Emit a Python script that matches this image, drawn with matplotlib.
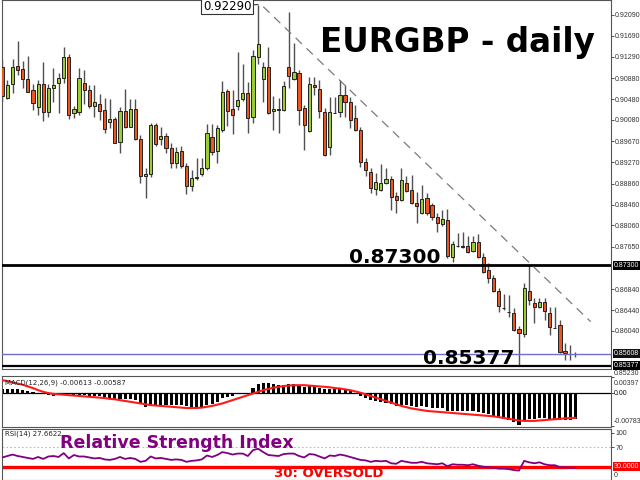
import matplotlib
matplotlib.use('Agg')
import matplotlib.pyplot as plt
from matplotlib.transforms import blended_transform_factory as btf

# ---------------- data ----------------
opens = [0.91100, 0.90495, 0.90763, 0.91113, 0.91050, 0.90859, 0.90654, 0.90334, 0.90763, 0.90238,
         0.90686, 0.90782, 0.90878, 0.91280, 0.90208, 0.90238, 0.90782, 0.90654, 0.90348, 0.90386,
         0.90271, 0.90047, 0.90093, 0.89664, 0.90258, 0.89951, 0.90284, 0.89710, 0.89013, 0.89046,
         0.89984, 0.89710, 0.89773, 0.89538, 0.89251, 0.89492, 0.89199, 0.88822, 0.88963, 0.89046,
         0.89155, 0.89760, 0.89492, 0.89888, 0.90641, 0.90284, 0.90348, 0.90482, 0.90591, 0.90143,
         0.91280, 0.90865, 0.91100, 0.90252, 0.90280, 0.90271, 0.91100, 0.90865, 0.90974, 0.90304,
         0.89869, 0.90750, 0.90673, 0.90238, 0.89568, 0.90219, 0.90227, 0.90558, 0.90430, 0.90112,
         0.89888, 0.89281, 0.89090, 0.88758, 0.88739, 0.88868, 0.88944, 0.88624, 0.88548, 0.88868,
         0.88739, 0.88485, 0.88305, 0.88580, 0.88452, 0.88217, 0.88088, 0.88165, 0.87462, 0.87673,
         0.87673, 0.87673, 0.87571, 0.87749, 0.87451, 0.87208, 0.87049, 0.86811, 0.86486, 0.86409,
         0.86390, 0.86072, 0.85982, 0.86811, 0.86582, 0.86493, 0.86595, 0.86390, 0.86103, 0.86155,
         0.85657, 0.85594, 0.85594]
highs = [0.91228, 0.90845, 0.91242, 0.91592, 0.91209, 0.91305, 0.90769, 0.90845, 0.91196, 0.90769,
         0.91075, 0.90974, 0.91471, 0.91337, 0.90348, 0.91069, 0.91037, 0.90750, 0.90750, 0.90572,
         0.90495, 0.90482, 0.90143, 0.90323, 0.90667, 0.90476, 0.90476, 0.89792, 0.89155, 0.90028,
         0.90028, 0.89940, 0.89836, 0.89633, 0.89568, 0.89582, 0.89251, 0.89122, 0.89346, 0.89346,
         0.90003, 0.90003, 0.89984, 0.90832, 0.90667, 0.90654, 0.91387, 0.91152, 0.90813, 0.91420,
         0.92290, 0.91196, 0.91483, 0.90539, 0.90501, 0.90826, 0.92153, 0.91548, 0.91037, 0.90367,
         0.90909, 0.90909, 0.90845, 0.90304, 0.90526, 0.90526, 0.90845, 0.90750, 0.90526, 0.90367,
         0.89951, 0.89346, 0.89155, 0.89071, 0.89237, 0.89155, 0.89007, 0.88707, 0.89155, 0.89007,
         0.89026, 0.88707, 0.88835, 0.88682, 0.88490, 0.88293, 0.88356, 0.88370, 0.87763, 0.87922,
         0.87941, 0.87859, 0.87859, 0.87897, 0.87527, 0.87336, 0.87112, 0.86857, 0.86748, 0.86729,
         0.86480, 0.86135, 0.86953, 0.87300, 0.86666, 0.86672, 0.86672, 0.86499, 0.86499, 0.86250,
         0.85804, 0.85772, 0.85643]
lows = [0.90430, 0.90480, 0.90591, 0.90941, 0.90686, 0.90616, 0.90271, 0.90175, 0.90060, 0.90143,
        0.90430, 0.90208, 0.90782, 0.90093, 0.90118, 0.90175, 0.90386, 0.90315, 0.90131, 0.90080,
        0.89825, 0.89921, 0.89639, 0.89442, 0.89921, 0.89946, 0.89697, 0.88879, 0.88580, 0.88994,
        0.89582, 0.89601, 0.89453, 0.89155, 0.89155, 0.89161, 0.88657, 0.88726, 0.88931, 0.89007,
        0.89122, 0.89409, 0.89262, 0.89856, 0.89965, 0.89811, 0.90271, 0.90443, 0.89825, 0.90028,
        0.91152, 0.90430, 0.90194, 0.89888, 0.89831, 0.90252, 0.90686, 0.90845, 0.89984, 0.89505,
        0.89850, 0.90558, 0.90112, 0.89390, 0.89409, 0.90204, 0.90143, 0.90143, 0.89926, 0.89869,
        0.89185, 0.89007, 0.88676, 0.88644, 0.88720, 0.88854, 0.88356, 0.88293, 0.88529, 0.88701,
        0.88471, 0.88102, 0.88280, 0.88261, 0.88165, 0.87941, 0.88050, 0.87437, 0.87367, 0.87648,
        0.87623, 0.87533, 0.87552, 0.87432, 0.87144, 0.86953, 0.86786, 0.86409, 0.86442, 0.86314,
        0.86040, 0.85377, 0.85931, 0.86538, 0.86187, 0.86480, 0.86250, 0.85963, 0.86088, 0.85619,
        0.85484, 0.85484, 0.85548]
closes = [0.90539, 0.90750, 0.91100, 0.91037, 0.90859, 0.90621, 0.90399, 0.90763, 0.90238, 0.90686,
          0.90750, 0.90878, 0.91280, 0.90175, 0.90284, 0.90889, 0.90654, 0.90348, 0.90418, 0.90258,
          0.89901, 0.90099, 0.89645, 0.90258, 0.89940, 0.90284, 0.89710, 0.89007, 0.89046, 0.89984,
          0.89620, 0.89773, 0.89538, 0.89262, 0.89473, 0.89199, 0.88822, 0.88963, 0.88982, 0.89166,
          0.89825, 0.89473, 0.89921, 0.90621, 0.90258, 0.90175, 0.90462, 0.90591, 0.90112, 0.91305,
          0.91535, 0.91100, 0.90208, 0.90284, 0.90277, 0.90730, 0.90922, 0.91004, 0.90271, 0.89984,
          0.90769, 0.90706, 0.90252, 0.89409, 0.90227, 0.90216, 0.90558, 0.90418, 0.90080, 0.89888,
          0.89281, 0.89122, 0.88772, 0.88887, 0.88868, 0.88944, 0.88611, 0.88548, 0.88931, 0.88726,
          0.88496, 0.88433, 0.88561, 0.88293, 0.88217, 0.88102, 0.88178, 0.87476, 0.87700, 0.87667,
          0.87654, 0.87558, 0.87738, 0.87451, 0.87175, 0.87049, 0.86811, 0.86518, 0.86480, 0.86403,
          0.86059, 0.86007, 0.86869, 0.86633, 0.86493, 0.86595, 0.86428, 0.86111, 0.86099, 0.85643,
          0.85624, 0.85599, 0.85608]

macd_main = [0.0012, 0.0012, 0.0011, 0.0011, 0.0009, 0.0006, 0.0004, 0.0002, -0.0002, -0.0004,
             -0.0005, -0.0004, -0.0001, -0.0002, -0.0003, -0.0003, -0.0004, -0.0005, -0.0006, -0.0007,
             -0.0009, -0.0010, -0.0013, -0.0014, -0.0014, -0.0013, -0.0016, -0.0025, -0.0033, -0.0030,
             -0.0028, -0.0027, -0.0027, -0.0028, -0.0027, -0.0027, -0.0031, -0.0033, -0.0034, -0.0033,
             -0.0028, -0.0025, -0.0020, -0.0012, -0.0008, -0.0005, -0.0002, 0.0001, 0.0002, 0.0013,
             0.0024, 0.0026, 0.0025, 0.0022, 0.0020, 0.0021, 0.0023, 0.0022, 0.0019, 0.0016,
             0.0018, 0.0017, 0.0014, 0.0010, 0.0011, 0.0010, 0.0010, 0.0008, 0.0005, 0.0002,
             -0.0005, -0.0010, -0.0016, -0.0019, -0.0021, -0.0022, -0.0026, -0.0029, -0.0027, -0.0028,
             -0.0030, -0.0032, -0.0031, -0.0033, -0.0035, -0.0036, -0.0036, -0.0043, -0.0043, -0.0043,
             -0.0043, -0.0043, -0.0042, -0.0044, -0.0047, -0.0050, -0.0054, -0.0059, -0.0062, -0.0065,
             -0.0069, -0.0075, -0.0063, -0.0061, -0.0061, -0.0060, -0.0060, -0.0061, -0.0061, -0.0064,
             -0.0065, -0.0063, -0.00613]
macd_signal = [0.0032, 0.0030, 0.0027, 0.0024, 0.0021, 0.0017, 0.0013, 0.0008, 0.0004, 0.0001,
               -0.0001, -0.0002, -0.0003, -0.0004, -0.0005, -0.0006, -0.0007, -0.0008, -0.0009, -0.0010,
               -0.0011, -0.0013, -0.0014, -0.0016, -0.0018, -0.0020, -0.0022, -0.0024, -0.0026, -0.0028,
               -0.0029, -0.0030, -0.0031, -0.0032, -0.0033, -0.0034, -0.0035, -0.0035, -0.0035, -0.0034,
               -0.0032, -0.0030, -0.0027, -0.0024, -0.0020, -0.0016, -0.0012, -0.0008, -0.0004, 0.0000,
               0.0004, 0.0008, 0.0011, 0.0014, 0.0016, 0.0018, 0.0019, 0.0020, 0.0020, 0.0020,
               0.0019, 0.0018, 0.0017, 0.0016, 0.0015, 0.0013, 0.0012, 0.0010, 0.0008, 0.0005,
               0.0002, -0.0002, -0.0006, -0.0010, -0.0014, -0.0018, -0.0022, -0.0026, -0.0030, -0.0033,
               -0.0036, -0.0038, -0.0040, -0.0042, -0.0043, -0.0044, -0.0045, -0.0046, -0.0047, -0.0048,
               -0.0049, -0.0050, -0.0051, -0.0052, -0.0053, -0.0054, -0.0055, -0.0057, -0.0059, -0.0061,
               -0.0063, -0.0065, -0.0066, -0.0066, -0.0066, -0.0065, -0.0064, -0.0063, -0.0062, -0.0061,
               -0.0060, -0.0059, -0.00587]
rsi = [49, 52, 55, 52, 50, 48, 46, 50, 46, 51, 52, 50, 58, 47, 54, 51, 51, 49, 47, 48,
       45, 44, 46, 50, 46, 48, 46, 40, 42, 51, 47, 48, 46, 44, 45, 44, 40, 42, 43, 45,
       53, 50, 54, 60, 58, 55, 57, 57, 52, 64, 67, 60, 54, 53, 52, 56, 57, 57, 52, 49,
       56, 55, 51, 47, 53, 52, 55, 53, 50, 47, 44, 43, 40, 42, 41, 42, 37, 36, 42, 40,
       38, 38, 40, 37, 36, 35, 37, 31, 35, 34, 34, 33, 35, 32, 30, 29, 28, 26, 26, 25,
       23, 22, 42, 39, 37, 39, 35, 33, 33, 29, 28.5, 28, 27.6622]

price_ticks = [0.92090, 0.91690, 0.91290, 0.90880, 0.90480, 0.90080, 0.89670, 0.89270,
               0.88860, 0.88460, 0.88060, 0.87650, 0.86840, 0.86440, 0.86040]
price_bottom_label = 0.85230
level_resist = 0.87300
level_support = 0.85377
bid_price = 0.85608
peak_price = 0.92290
peak_index = 50
trend_x = [51, 115]
trend_y = [0.92249, 0.86218]
macd_top, macd_bottom = 0.00397, -0.00783
rsi_levels = [100, 70, 30, 0]

# ---------------- layout ----------------
W, H = 640, 480
fig = plt.figure(figsize=(6.4, 4.8), dpi=100)
fig.patch.set_facecolor('white')

def box(x0, y0, x1, y1):
    return [x0 / W, 1 - y1 / H, (x1 - x0) / W, (y1 - y0) / H]

ax = fig.add_axes(box(2, 0, 611, 369))
axm = fig.add_axes(box(2, 376, 611, 427))
axr = fig.add_axes(box(2, 429, 611, 480))

n = len(opens)
idx = list(range(n))
xlim = (-0.06, 118.98)

bull_c = '#9ACD32'
bear_c = '#EE5520'
wick_c = '#505050'
lab_font = dict(family='Liberation Sans', size=5.0)

# wicks
ax.vlines(idx, lows, highs, colors=wick_c, linewidth=1.0, zorder=2)
# bodies
bottoms = [min(o, c) for o, c in zip(opens, closes)]
heights = [max(abs(c - o), 0.00004) for o, c in zip(opens, closes)]
cols = [bull_c if c >= o else bear_c for o, c in zip(opens, closes)]
ax.bar(idx, heights, bottom=bottoms, width=0.62, color=cols,
       edgecolor='#222222', linewidth=0.7, zorder=3)

ax.set_xlim(*xlim)
ax.set_ylim(0.85312, 0.92377)

# horizontal levels
ax.axhline(level_resist, color='black', linewidth=2.0, zorder=4)
ax.axhline(level_support, color='black', linewidth=1.6, zorder=4)
ax.axhline(bid_price, color='#6F6FD0', linewidth=1.0, zorder=4)

# trend line
ax.plot(trend_x, trend_y, color='#7A7A7A', linewidth=0.9,
        linestyle=(0, (7, 5)), zorder=4)

# peak label
ax.annotate(f'{peak_price:.5f}', xy=(peak_index, peak_price),
            xytext=(44.0, peak_price - 0.00030), textcoords='data',
            fontsize=8.5, ha='center', va='center', color='black',
            bbox=dict(boxstyle='square,pad=0.15', fc='white', ec='#333333', lw=0.8),
            arrowprops=dict(arrowstyle='-', color='#333333', lw=0.8,
                            shrinkA=0, shrinkB=0), zorder=6)

for a in (ax, axm, axr):
    a.yaxis.tick_right()
    a.set_xticks([])
    a.tick_params(axis='y', which='both', length=2.0, width=0.6, pad=1.0,
                  labelsize=5.0, colors='#333333')
    for s in a.spines.values():
        s.set_color('#555555')
        s.set_linewidth(0.8)
    a.set_facecolor('white')

ax.set_yticks(price_ticks)
ax.set_yticklabels([f'{v:.5f}' for v in price_ticks], family='Liberation Sans')

tr = btf(ax.transAxes, ax.transData)

def tag(a, value, text, fc, trans, tc='white'):
    a.text(1.0045, value, text, transform=trans, color=tc,
           va='center', ha='left', clip_on=False, zorder=10,
           bbox=dict(boxstyle='square,pad=0.12', fc=fc, ec=fc, lw=0), **lab_font)

tag(ax, level_resist, f'{level_resist:.5f}', 'black', tr)
tag(ax, bid_price, f'{bid_price:.5f}', '#111111', tr)
tag(ax, level_support, f'{level_support:.5f}', 'black', tr)
ax.text(1.0045, price_bottom_label, f'{price_bottom_label:.5f}', transform=tr,
        color='#333333', va='center', ha='left', clip_on=False, **lab_font)

# ---------------- MACD ----------------
axm.bar(idx, macd_main, width=0.6, color='black', zorder=2)
axm.plot(idx, macd_signal, color='#FF1A1A', linewidth=1.5, zorder=3)
axm.axhline(0.0, color='black', linewidth=0.9, zorder=1)
axm.set_xlim(*xlim)
axm.set_ylim(-0.00807, 0.00421)
axm.set_yticks([macd_top, 0.0, macd_bottom])
axm.set_yticklabels([])
trm = btf(axm.transAxes, axm.transData)
axm.text(1.0045, 0.86, f'{macd_top:.5f}', transform=axm.transAxes, color='#333333',
         va='center', ha='left', clip_on=False, **lab_font)
axm.text(1.0045, 0.0, '0.00', transform=trm, color='#111111',
         va='center', ha='left', clip_on=False, **lab_font)
axm.text(1.0045, 0.10, f'{macd_bottom:.5f}', transform=axm.transAxes, color='#333333',
         va='center', ha='left', clip_on=False, **lab_font)
axm.text(0.005, 0.86, f'MACD(12,26,9) {macd_main[-1]:.5f} {macd_signal[-1]:.5f}',
         transform=axm.transAxes, fontsize=5.0, color='#222222', va='center', ha='left')

# ---------------- RSI ----------------
axr.plot(idx, rsi, color='#800080', linewidth=1.3, zorder=3)
axr.axhline(70, color='#BBBBBB', linewidth=0.8, linestyle=(0, (1.5, 2)), zorder=1)
axr.axhline(30, color='#FF0000', linewidth=2.4, zorder=2)
axr.set_xlim(*xlim)
axr.set_ylim(2.6, 107.6)
axr.set_yticks([100, 70])
axr.set_yticklabels(['100', '70'], family='Liberation Sans')
trr = btf(axr.transAxes, axr.transData)
tag(axr, 30, '30.0000', '#FF0000', trr)
axr.text(1.0045, 0.02, '0', transform=axr.transAxes, color='#333333',
         va='bottom', ha='left', clip_on=False, **lab_font)
axr.text(0.005, 0.90, f'RSI(14) {rsi[-1]:.4f}', transform=axr.transAxes,
         fontsize=5.0, color='#222222', va='center', ha='left')

# ---------------- annotations ----------------
bold = dict(family='DejaVu Sans', weight='bold')
fig.text(320 / W, 1 - 51.7 / H, 'EURGBP - daily', fontsize=23.5, color='black',
         ha='left', va='baseline', **bold)
fig.text(440 / W, 1 - 263 / H, f'{level_resist:.5f}', fontsize=14.5, color='black',
         ha='right', va='baseline', **bold)
fig.text(423 / W, 1 - 364 / H, f'{level_support:.5f}', fontsize=14.5, color='black',
         ha='left', va='baseline', **bold)
fig.text(60 / W, 1 - 448 / H, 'Relative Strength Index', fontsize=12.5, color='#800080',
         ha='left', va='baseline', **bold)
fig.text(274 / W, 1 - 477 / H, '30: OVERSOLD', fontsize=9.5, color='#FF0000',
         ha='left', va='baseline', **bold)

fig.savefig('out.png', dpi=100)
